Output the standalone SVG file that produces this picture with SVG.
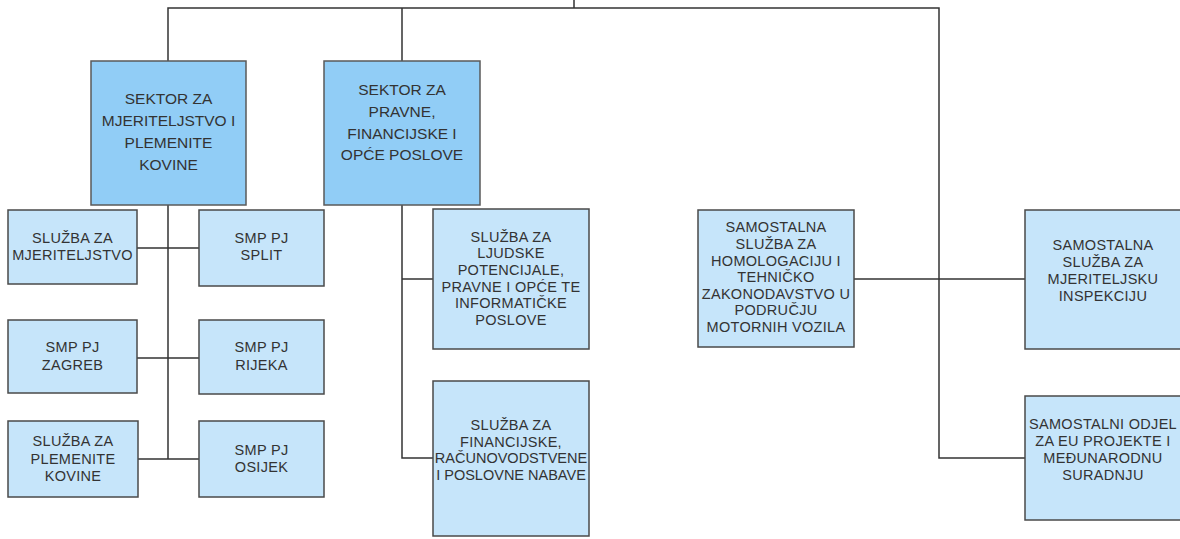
<svg xmlns="http://www.w3.org/2000/svg" width="1180" height="539" viewBox="0 0 1180 539">
<style>
.sec{fill:#91cdf6;stroke:#5a5a5a;stroke-width:1.5}
.sub{fill:#c6e5fa;stroke:#4a4a4a;stroke-width:1.5}
.ts{font-family:"Liberation Sans",Arial,sans-serif;font-size:15.5px;fill:#333;text-anchor:middle}
.t{font-family:"Liberation Sans",Arial,sans-serif;font-size:14.5px;fill:#333;text-anchor:middle;letter-spacing:0.3px}
.c{fill:none;stroke:#333;stroke-width:1.5}
</style>
<rect width="1180" height="539" fill="#fff"/>
<g id="connectors">
<path class="c" d="M574 0V8M168 61V8H939V458H1025M402 8V61"/>
<path class="c" d="M168 205V459M137 248H199M137 358H199M138 459H199"/>
<path class="c" d="M402 205V458H433M402 279H433"/>
<path class="c" d="M854 279H1025"/>
</g>
<g id="sektor-mjeriteljstvo">
<rect class="sec" x="91" y="61" width="155" height="144"/>
<text class="ts" x="168.5" y="104">SEKTOR  ZA</text>
<text class="ts" x="168.5" y="126">MJERITELJSTVO I</text>
<text class="ts" x="168.5" y="148">PLEMENITE</text>
<text class="ts" x="168.5" y="170">KOVINE</text>
</g>
<g id="sektor-pravne">
<rect class="sec" x="324" y="61" width="156" height="144"/>
<text class="ts" x="402" y="95">SEKTOR ZA</text>
<text class="ts" x="402" y="117">PRAVNE,</text>
<text class="ts" x="402" y="138.5">FINANCIJSKE I</text>
<text class="ts" x="402" y="160">OPĆE POSLOVE</text>
</g>
<g id="sluzba-mjeriteljstvo">
<rect class="sub" x="8" y="210" width="129" height="74"/>
<text class="t" x="72.5" y="243">SLUŽBA ZA</text>
<text class="t" x="72.5" y="260">MJERITELJSTVO</text>
</g>
<g id="smp-split">
<rect class="sub" x="199" y="210" width="125" height="76"/>
<text class="t" x="261.5" y="243">SMP PJ</text>
<text class="t" x="261.5" y="260">SPLIT</text>
</g>
<g id="smp-zagreb">
<rect class="sub" x="8" y="320" width="129" height="73"/>
<text class="t" x="72.5" y="352">SMP PJ</text>
<text class="t" x="72.5" y="370">ZAGREB</text>
</g>
<g id="smp-rijeka">
<rect class="sub" x="199" y="320" width="125" height="74"/>
<text class="t" x="261.5" y="352">SMP PJ</text>
<text class="t" x="261.5" y="370">RIJEKA</text>
</g>
<g id="sluzba-plemenite">
<rect class="sub" x="8" y="421" width="130" height="76"/>
<text class="t" x="73" y="446">SLUŽBA ZA</text>
<text class="t" x="73" y="463.5">PLEMENITE</text>
<text class="t" x="73" y="481">KOVINE</text>
</g>
<g id="smp-osijek">
<rect class="sub" x="199" y="421" width="125" height="76"/>
<text class="t" x="261.5" y="454.5">SMP PJ</text>
<text class="t" x="261.5" y="472">OSIJEK</text>
</g>
<g id="sluzba-ljudske">
<rect class="sub" x="433" y="209" width="156" height="140"/>
<text class="t" x="511" y="241.5">SLUŽBA ZA</text>
<text class="t" x="511" y="258.2">LJUDSKE</text>
<text class="t" x="511" y="274.9">POTENCIJALE,</text>
<text class="t" x="511" y="291.6">PRAVNE I OPĆE TE</text>
<text class="t" x="511" y="308.3">INFORMATIČKE</text>
<text class="t" x="511" y="325">POSLOVE</text>
</g>
<g id="sluzba-financijske">
<rect class="sub" x="433" y="381" width="156" height="155"/>
<text class="t" x="511" y="430">SLUŽBA ZA</text>
<text class="t" x="511" y="446.7">FINANCIJSKE,</text>
<text class="t" x="511" y="463.3" style="letter-spacing:0">RAČUNOVODSTVENE</text>
<text class="t" x="511" y="480" style="letter-spacing:0">I POSLOVNE NABAVE</text>
</g>
<g id="samostalna-homologacija">
<rect class="sub" x="698" y="210" width="156" height="137"/>
<text class="t" x="776" y="232.3">SAMOSTALNA</text>
<text class="t" x="776" y="248.9">SLUŽBA ZA</text>
<text class="t" x="776" y="265.5">HOMOLOGACIJU I</text>
<text class="t" x="776" y="282">TEHNIČKO</text>
<text class="t" x="776" y="298.6">ZAKONODAVSTVO U</text>
<text class="t" x="776" y="315.2">PODRUČJU</text>
<text class="t" x="776" y="331.8">MOTORNIH VOZILA</text>
</g>
<g id="samostalna-inspekcija">
<rect class="sub" x="1025" y="210" width="157" height="139"/>
<text class="t" x="1103" y="250">SAMOSTALNA</text>
<text class="t" x="1103" y="267">SLUŽBA ZA</text>
<text class="t" x="1103" y="284">MJERITELJSKU</text>
<text class="t" x="1103" y="301">INSPEKCIJU</text>
</g>
<g id="samostalni-odjel-eu">
<rect class="sub" x="1025" y="396" width="157" height="124"/>
<text class="t" x="1103" y="428.5">SAMOSTALNI ODJEL</text>
<text class="t" x="1103" y="446">ZA EU PROJEKTE I</text>
<text class="t" x="1103" y="463">MEĐUNARODNU</text>
<text class="t" x="1103" y="480">SURADNJU</text>
</g>
</svg>
